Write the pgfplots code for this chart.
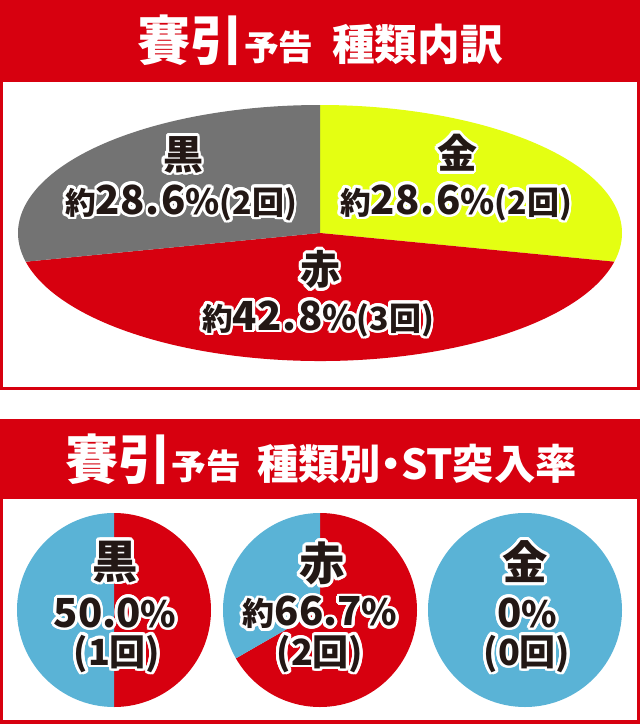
\documentclass[border=0pt]{standalone}
\usepackage{pgfplots}
\pgfplotsset{compat=1.18}
\usepackage{pgfplotstable}
\usepackage{fontspec}
\usepackage{contour}
\setmainfont{Noto Sans CJK JP}

\definecolor{hdred}{HTML}{D7000F}
\definecolor{pgray}{HTML}{737373}
\definecolor{pgold}{HTML}{E4FF12}
\definecolor{pblue}{HTML}{5AB3D6}
\definecolor{ink}{HTML}{231815}

\contourlength{2.1pt}
\contournumber{24}

% share of each type, clockwise from 12 o'clock: gold, red, black
\pgfplotstableread{
share
28.6
42.8
28.6
}\typeshare

% ST rate per type: black, red, gold
\pgfplotstableread{
rate
50.0
66.7
0.0
}\strate

\newcommand\fs[1]{\fontsize{#1}{#1}\selectfont}
\newcommand\lbl[1]{\contour{white}{#1}}

% wedge of an ellipse centred at (#1,#2) px, radii #3,#4 px,
% from #5 % to #6 % going clockwise from the top, colour #7
\newcommand\slice[7]{%
  \pgfmathsetmacro\angA{90-3.6*#5}%
  \pgfmathsetmacro\angB{90-3.6*#6}%
  \pgfmathsetmacro\offX{#3*0.75*cos(\angA)}%
  \pgfmathsetmacro\offY{#4*0.75*sin(\angA)}%
  \edef\doslice{\noexpand\fill[#7] (axis cs:#1,#2) -- ++(\offX pt,\offY pt)
    arc[start angle=\angA, end angle=\angB, x radius=#3*0.75pt, y radius=#4*0.75pt] -- cycle;}%
  \doslice}

\begin{document}
\begin{tikzpicture}
\begin{axis}[
    hide axis, scale only axis,
    width=480pt, height=543pt,
    xmin=0, xmax=640, ymin=0, ymax=724,
    y dir=reverse, clip=false,
  ]
  % frames
  \fill[hdred] (axis cs:0,0) rectangle (axis cs:640,390);
  \fill[white] (axis cs:3,82) rectangle (axis cs:637,387);
  \fill[hdred] (axis cs:0,419) rectangle (axis cs:640,724);
  \fill[white] (axis cs:3,499) rectangle (axis cs:637,720);

  \node[text=white, font=\bfseries] at (axis cs:320,40)
    {\fs{40}賽引\fs{26}予告\hspace{14pt}\fs{32}種類内訳};
  \node[text=white, font=\bfseries] at (axis cs:321,459)
    {\fs{40}賽引\fs{26}予告\hspace{12pt}\fs{31}種類別\kern-8pt・\kern-8pt ST突入率};

  % type breakdown
  \pgfplotstablegetelem{0}{share}\of\typeshare \let\sA\pgfplotsretval
  \pgfplotstablegetelem{1}{share}\of\typeshare \let\sB\pgfplotsretval
  \pgfmathsetmacro\cA{\sA}
  \pgfmathsetmacro\cB{\sA+\sB}
  \slice{320}{233}{302}{128}{0}{\cA}{pgold}
  \slice{320}{233}{302}{128}{\cA}{\cB}{hdred}
  \slice{320}{233}{302}{128}{\cB}{100}{pgray}

  % ST rate per type
  \pgfplotstablegetelem{0}{rate}\of\strate \let\rA\pgfplotsretval
  \pgfplotstablegetelem{1}{rate}\of\strate \let\rB\pgfplotsretval
  \pgfplotstablegetelem{2}{rate}\of\strate \let\rC\pgfplotsretval
  \slice{114}{610}{97}{97}{0}{\rA}{hdred}
  \slice{114}{610}{97}{97}{\rA}{100}{pblue}
  \slice{320}{610}{97}{97}{0}{\rB}{hdred}
  \slice{320}{610}{97}{97}{\rB}{100}{pblue}
  \slice{525}{610}{97}{97}{0}{\rC}{hdred}
  \slice{525}{610}{97}{97}{\rC}{100}{pblue}

  \begin{scope}[every node/.style={text=ink, font=\bfseries, inner sep=0pt}]
    \node at (axis cs:183,156) {\lbl{\fs{30}黒}};
    \node at (axis cs:181,204) {\lbl{\fs{23}約\fs{30}28\kern1pt.\kern1pt6\fs{26}\%\fs{24}(2回)}};
    \node at (axis cs:457,154) {\lbl{\fs{30}金}};
    \node at (axis cs:456,204) {\lbl{\fs{23}約\fs{30}28\kern1pt.\kern1pt6\fs{26}\%\fs{24}(2回)}};
    \node at (axis cs:320,271) {\lbl{\fs{30}赤}};
    \node at (axis cs:318,320) {\lbl{\fs{23}約\fs{30}42\kern1pt.\kern1pt8\fs{26}\%\fs{24}(3回)}};

    \node at (axis cs:115,563) {\lbl{\fs{34}黒}};
    \node at (axis cs:115,614) {\lbl{\fs{30}50.0\fs{27}\%}};
    \node at (axis cs:117,655) {\lbl{\fs{27}(1回)}};
    \node at (axis cs:322,565) {\lbl{\fs{34}赤}};
    \node at (axis cs:320,614) {\lbl{\fs{24}約\fs{30}66.7\fs{27}\%}};
    \node at (axis cs:320,655) {\lbl{\fs{27}(2回)}};
    \node at (axis cs:525,563) {\lbl{\fs{34}金}};
    \node at (axis cs:527,614) {\lbl{\fs{30}0\fs{27}\%}};
    \node at (axis cs:527,655) {\lbl{\fs{27}(0回)}};
  \end{scope}
\end{axis}
\end{tikzpicture}
\end{document}
